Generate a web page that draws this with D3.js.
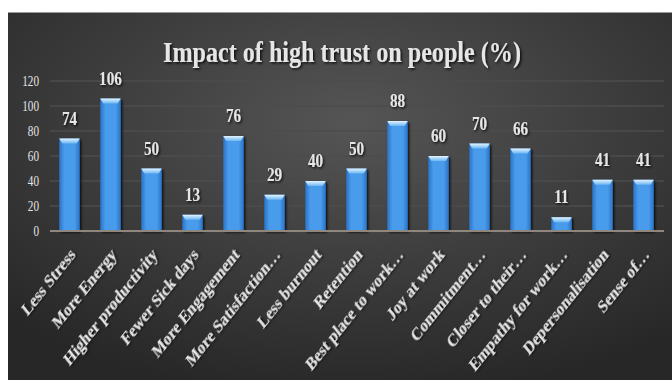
<!DOCTYPE html>
<html lang="en">
<head>
    <meta charset="UTF-8" />
    <title>Impact of high trust on people</title>
    <script src="https://d3js.org/d3.v7.min.js"></script>
    <style>
        body { margin: 0; background: #fff; }
        .lbl { font-family: "Liberation Serif", "Times New Roman", serif; fill: #e6e6e6; }
    </style>
</head>
<body>
    <script>
        // data
        const categories = ["Less Stress", "More Energy", "Higher productivity", "Fewer Sick days",
            "More Engagement", "More Satisfaction…", "Less burnout", "Retention", "Best place to work…",
            "Joy at work", "Commitment…", "Closer to their…", "Empathy for work…", "Depersonalisation", "Sense of…"];
        const values = [74, 106, 50, 13, 76, 29, 40, 50, 88, 60, 70, 66, 11, 41, 41];
        const yTicks = [0, 20, 40, 60, 80, 100, 120];

        const width = 672, height = 380;
        const sx = 0.8; // the source image is squashed horizontally

        const svg = d3.select("body").append("svg")
            .attr("width", width).attr("height", height);

        const defs = svg.append("defs");
        const bg = defs.append("radialGradient").attr("id", "bg")
            .attr("cx", "52%").attr("cy", "30%").attr("r", "75%");
        bg.append("stop").attr("offset", "0%").attr("stop-color", "#555555");
        bg.append("stop").attr("offset", "100%").attr("stop-color", "#272727");

        const barG = defs.append("linearGradient").attr("id", "bar")
            .attr("x1", "0").attr("x2", "1").attr("y1", "0").attr("y2", "0");
        [["0%", "#2b73c6"], ["25%", "#4a9cec"], ["75%", "#4a9cec"], ["100%", "#2b73c6"]]
            .forEach(s => barG.append("stop").attr("offset", s[0]).attr("stop-color", s[1]));

        const capG = defs.append("linearGradient").attr("id", "cap")
            .attr("x1", "0").attr("x2", "0").attr("y1", "0").attr("y2", "1");
        capG.append("stop").attr("offset", "0%").attr("stop-color", "#e4f4ff");
        capG.append("stop").attr("offset", "100%").attr("stop-color", "#6cb6f2");

        const sh = defs.append("filter").attr("id", "shadow")
            .attr("x", "-20%").attr("y", "-20%").attr("width", "140%").attr("height", "140%");
        sh.append("feDropShadow").attr("dx", 1.5).attr("dy", 1.5).attr("stdDeviation", 1)
            .attr("flood-color", "#000").attr("flood-opacity", 0.8);

        // chart panel
        svg.append("rect").attr("x", 8).attr("y", 12).attr("width", width - 8).attr("height", height - 12)
            .attr("fill", "url(#bg)");
        svg.append("line").attr("x1", 8).attr("x2", width).attr("y1", 12.5).attr("y2", 12.5)
            .attr("stroke", "#9a9a9a").attr("stroke-width", 1);

        const x = d3.scaleBand().domain(categories).range([49, 664])
            .paddingInner(0.5).paddingOuter(0.25);
        const y = d3.scaleLinear().domain([0, 120]).range([231, 81]);

        // gridlines
        svg.append("g").selectAll("line").data(yTicks.filter(d => d > 0)).join("line")
            .attr("x1", 50).attr("x2", 664)
            .attr("y1", d => y(d)).attr("y2", d => y(d))
            .attr("stroke", "#4c4c4c").attr("stroke-width", 1.5);

        // y axis
        const yAxis = svg.append("g").attr("transform", "translate(50,0)")
            .call(d3.axisLeft(y).tickValues(yTicks).tickSize(0).tickPadding(0));
        yAxis.select(".domain").remove();
        yAxis.selectAll("text")
            .attr("class", "lbl")
            .attr("x", -11 / sx)
            .attr("transform", `scale(${sx},1)`)
            .style("font-size", "14px")
            .attr("fill", "#d8d8d8");

        // bars
        const bars = svg.append("g").selectAll("g").data(values).join("g");
        bars.append("rect")
            .attr("x", (d, i) => x(categories[i]))
            .attr("y", d => y(d))
            .attr("width", x.bandwidth())
            .attr("height", d => y(0) - y(d))
            .attr("fill", "url(#bar)")
            .attr("filter", "url(#shadow)");
        bars.append("path")
            .attr("d", (d, i) => {
                const x0 = x(categories[i]), w = x.bandwidth(), t = y(d);
                return `M${x0},${t}H${x0 + w}L${x0 + w - 3},${t + 5}H${x0 + 3}Z`;
            })
            .attr("fill", "url(#cap)");

        // baseline
        svg.append("line").attr("x1", 50).attr("x2", 664).attr("y1", y(0)).attr("y2", y(0))
            .attr("stroke", "#8f867e").attr("stroke-width", 2);

        // value labels
        svg.append("g").selectAll("text").data(values).join("text")
            .attr("class", "lbl")
            .attr("transform", (d, i) => `translate(${x(categories[i]) + x.bandwidth() / 2},${y(d) - 14}) scale(${sx},1)`)
            .attr("text-anchor", "middle")
            .style("font-size", "19px").style("font-weight", "bold")
            .attr("filter", "url(#shadow)")
            .text(d => d);

        // category labels, rotated
        svg.append("g").selectAll("text").data(categories).join("text")
            .attr("class", "lbl")
            .attr("transform", d => `translate(${x(d) + x.bandwidth() / 2 + 3},${y(0) + 20}) scale(${sx},1) rotate(-45)`)
            .attr("text-anchor", "end")
            .attr("dy", "0.35em")
            .style("font-size", "18.5px").style("font-weight", "bold")
            .attr("fill", "#dcdcdc")
            .attr("filter", "url(#shadow)")
            .text(d => d);

        // title
        svg.append("text")
            .attr("class", "lbl")
            .attr("x", 342).attr("y", 62)
            .attr("text-anchor", "middle")
            .attr("textLength", 358).attr("lengthAdjust", "spacingAndGlyphs")
            .style("font-size", "29px").style("font-weight", "bold")
            .attr("filter", "url(#shadow)")
            .text("Impact of high trust on people (%)");
    </script>
</body>
</html>
